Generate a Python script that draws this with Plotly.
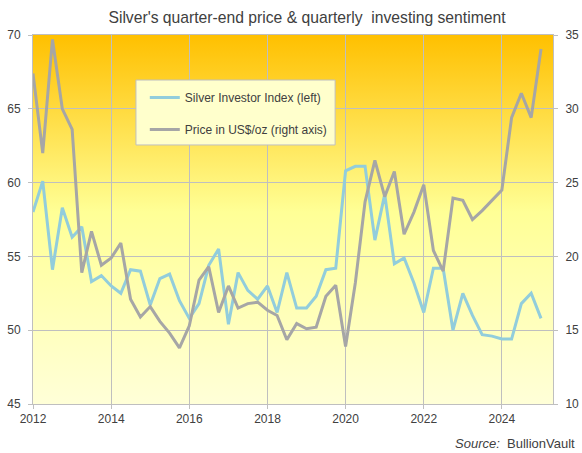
import base64
import pandas as pd
import plotly.graph_objects as go

# quarterly points, Q1 2012 .. Q1 2025
quarters = pd.date_range("2012-01-01", periods=53, freq="QS")

investor_index = [
    58.0, 60.1, 54.1, 58.3, 56.3, 57.0, 53.3, 53.7, 53.0, 52.5,
    54.1, 54.0, 51.7, 53.5, 53.8, 52.0, 50.8, 51.8, 54.4, 55.5,
    50.4, 53.9, 52.7, 52.1, 53.0, 51.2, 53.9, 51.5, 51.5, 52.3,
    54.1, 54.2, 60.8, 61.1, 61.1, 56.1, 59.2, 54.5, 54.9, 53.2,
    51.2, 54.2, 54.2, 50.0, 52.5, 51.0, 49.7, 49.6, 49.4, 49.4,
    51.8, 52.5, 50.8,
]

price_usd = [
    32.4, 27.0, 34.7, 30.0, 28.6, 18.9, 21.7, 19.4, 19.9, 20.9,
    17.1, 15.9, 16.6, 15.6, 14.8, 13.8, 15.3, 18.4, 19.3, 16.2,
    18.0, 16.5, 16.8, 16.9, 16.35, 16.0, 14.35, 15.45, 15.1, 15.2,
    17.3, 18.05, 13.9, 18.2, 23.7, 26.5, 24.05, 25.75, 21.5, 23.0,
    24.85, 20.4, 19.0, 23.95, 23.8, 22.5, 23.1, 23.8, 24.5, 29.4,
    31.05, 29.4, 34.05,
]

x_ticks = ["2012", "2014", "2016", "2018", "2020", "2022", "2024"]

FONT = "Liberation Sans, Arial, sans-serif"
TXT = "#404040"
GRID = "#BFBFBF"

# orange-to-pale-yellow background for the plot area
svg = (
    '<svg xmlns="http://www.w3.org/2000/svg" width="10" height="100" '
    'viewBox="0 0 10 100" preserveAspectRatio="none">'
    '<defs><linearGradient id="g" x1="0" y1="0" x2="0" y2="1">'
    '<stop offset="0" stop-color="#FFC000"/>'
    '<stop offset="0.48" stop-color="#FFFF96"/>'
    '<stop offset="1" stop-color="#FFFFD8"/>'
    '</linearGradient></defs>'
    '<rect width="10" height="100" fill="url(#g)"/></svg>'
)
bg_src = "data:image/svg+xml;base64," + base64.b64encode(svg.encode()).decode()

fig = go.Figure()
fig.add_trace(go.Scatter(
    x=quarters, y=investor_index, mode="lines",
    name="Silver Investor Index (left)", legendgroup="a",
    line=dict(color="#92CDDC", width=3),
))
fig.add_trace(go.Scatter(
    x=quarters, y=price_usd, mode="lines", yaxis="y2",
    name="Price in US$/oz (right axis)", legendgroup="b",
    line=dict(color="#A6A6A6", width=3),
))

fig.update_layout(
    width=582, height=453,
    margin=dict(l=33, r=29, t=35, b=49),
    paper_bgcolor="white",
    plot_bgcolor="rgba(0,0,0,0)",
    font=dict(family=FONT, size=12, color=TXT),
    title=dict(
        text="Silver's quarter-end price &amp; quarterly  investing sentiment",
        x=0.5275, xanchor="center", y=0.962, yanchor="middle",
        font=dict(size=15.7, color=TXT),
    ),
    images=[dict(
        source=bg_src, xref="paper", yref="paper", x=0, y=1,
        sizex=1, sizey=1, sizing="stretch", layer="below",
        xanchor="left", yanchor="top",
    )],
    xaxis=dict(
        type="date",
        range=["2012-01-01", "2025-04-23"],
        tickvals=[pd.Timestamp(t + "-01-01") for t in x_ticks],
        ticktext=x_ticks,
        showgrid=True, gridcolor=GRID, gridwidth=1,
        showline=True, linecolor=GRID, linewidth=1, mirror=True,
        ticks="outside", ticklen=4, tickcolor=GRID,
        zeroline=False, automargin=False,
    ),
    yaxis=dict(
        range=[45, 70], dtick=5,
        showgrid=True, gridcolor=GRID, gridwidth=1,
        showline=True, linecolor=GRID, linewidth=1, mirror=True,
        ticks="outside", ticklen=4, tickcolor=GRID,
        ticklabelstandoff=5,
        zeroline=False, automargin=False,
    ),
    yaxis2=dict(
        range=[10, 35], dtick=5, overlaying="y", side="right",
        showgrid=False, showline=True, linecolor=GRID, linewidth=1,
        ticks="outside", ticklen=4, tickcolor=GRID,
        ticklabelstandoff=5,
        zeroline=False, automargin=False,
    ),
    legend=dict(
        x=0.215, y=0.870, xanchor="left", yanchor="top",
        bgcolor="rgba(0,0,0,0)", borderwidth=0,
        font=dict(size=12, color=TXT),
        traceorder="grouped", tracegroupgap=13,
        itemwidth=30,
    ),
    showlegend=True,
    hovermode=False,
)

# legend box
fig.add_shape(
    type="rect", xref="paper", yref="paper",
    x0=0.198, x1=0.581, y0=0.702, y1=0.878,
    fillcolor="#FFFFCC", line=dict(color=GRID, width=1), layer="above",
)

fig.add_annotation(
    text="<i>Source:</i>  BullionVault",
    xref="paper", yref="paper", x=1.046, y=-0.1057,
    xanchor="right", yanchor="middle", showarrow=False,
    font=dict(size=13, color=TXT),
)

# drop the default body margin so the 582x453 figure fills the window
fig.write_html(
    "out.html",
    config={"displayModeBar": False},
    post_script="document.body.style.margin='0';",
)
